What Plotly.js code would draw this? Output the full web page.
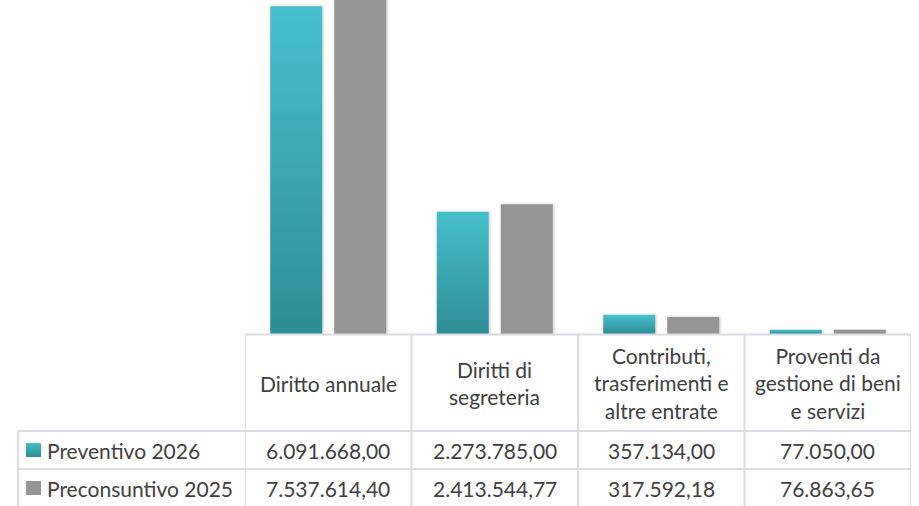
<!DOCTYPE html>
<html>
<head>
<meta charset="utf-8">
<script src="https://cdn.plot.ly/plotly-3.0.1.min.js"></script>
<style>
html,body{margin:0;padding:0;background:#fff;}
#chart{width:919px;height:506px;}
</style>
</head>
<body>
<svg width="0" height="0" style="position:absolute">
  <defs>
    <linearGradient id="tealGrad" x1="0" y1="0" x2="0" y2="1">
      <stop offset="0" stop-color="#46C0CC"/>
      <stop offset="1" stop-color="#2E8D96"/>
    </linearGradient>
    <filter id="barShadow" x="-20%" y="-20%" width="140%" height="140%">
      <feDropShadow dx="1" dy="0" stdDeviation="1.6" flood-color="#000" flood-opacity="0.22"/>
    </filter>
  </defs>
</svg>
<div id="chart"></div>
<script>
// ---- data ----
const categories = ['Diritto annuale', 'Diritti di segreteria', 'Contributi, trasferimenti e altre entrate', 'Proventi da gestione di beni e servizi'];
const categoryLabels = ['Diritto annuale', 'Diritti di<br>segreteria', 'Contributi,<br>trasferimenti e<br>altre entrate', 'Proventi da<br>gestione di beni<br>e servizi'];
const seriesNames = ['Preventivo 2026', 'Preconsuntivo 2025'];
const preventivo2026 = [6091668.00, 2273785.00, 357134.00, 77050.00];
const preconsuntivo2025 = [7537614.40, 2413544.77, 317592.18, 76863.65];

// ---- styling ----
const TEAL = '#3AA8B2';
const GRAY = '#959595';
const LINE = '#DCDCE4';
const TXT = '#404040';
const FONT = 'Lato, "Open Sans", sans-serif';
const FS = 21;

const W = 919, H = 506;
const L = 245, R = 8, T = 0, B = 172;
const PW = W - L - R, PH = H - T - B;
const px = p => (p - L) / PW;
const py = p => (T + PH - p) / PH;

function fmt(v) {
  const s = v.toFixed(2);
  const parts = s.split('.');
  return parts[0].replace(/\B(?=(\d{3})+(?!\d))/g, '.') + ',' + parts[1];
}

const traces = [
  {type: 'bar', name: seriesNames[0], x: categories, y: preventivo2026, marker: {color: TEAL}, hoverinfo: 'none'},
  {type: 'bar', name: seriesNames[1], x: categories, y: preconsuntivo2025, marker: {color: GRAY}, hoverinfo: 'none'}
];

const shapes = [];
const lineStyle = {color: LINE, width: 2};
// header top line (axis baseline)
shapes.push({type: 'line', xref: 'x', yref: 'paper', x0: -0.5, x1: categories.length - 0.5, y0: py(334.5), y1: py(334.5), line: lineStyle});
// row lines
[431, 469].forEach(yy => shapes.push({type: 'line', xref: 'paper', yref: 'paper', x0: px(18), x1: 1, y0: py(yy), y1: py(yy), line: lineStyle}));
// left border of legend column
shapes.push({type: 'line', xref: 'paper', yref: 'paper', x0: px(18), x1: px(18), y0: py(431), y1: py(506), line: lineStyle});
// column separators
for (let i = 0; i <= categories.length; i++) {
  shapes.push({type: 'line', xref: 'x', yref: 'paper', x0: i - 0.5, x1: i - 0.5, y0: py(334.5), y1: py(506), line: lineStyle});
}
// legend keys
const keyColors = [TEAL, GRAY];
const rowCenters = [450, 488];
rowCenters.forEach((yc, k) => {
  shapes.push({type: 'rect', xref: 'paper', yref: 'paper', x0: px(26), x1: px(41), y0: py(yc - 7), y1: py(yc + 7), fillcolor: keyColors[k], line: {width: 0}});
});

const annotations = [];
const baseFont = {family: FONT, size: FS, color: TXT};
categoryLabels.forEach((lab, i) => {
  annotations.push({xref: 'x', yref: 'paper', x: i, y: py(383), text: lab, showarrow: false, xanchor: 'center', yanchor: 'middle', align: 'center', font: baseFont});
});
const rows = [preventivo2026, preconsuntivo2025];
rows.forEach((vals, k) => {
  annotations.push({xref: 'paper', yref: 'paper', x: px(45), y: py(rowCenters[k]), text: seriesNames[k], showarrow: false, xanchor: 'left', yanchor: 'middle', font: baseFont});
  vals.forEach((v, i) => {
    annotations.push({xref: 'x', yref: 'paper', x: i, y: py(rowCenters[k]), text: fmt(v), showarrow: false, xanchor: 'center', yanchor: 'middle', font: baseFont});
  });
});

const layout = {
  width: W, height: H,
  margin: {l: L, r: R, t: T, b: B, pad: 0},
  paper_bgcolor: '#fff', plot_bgcolor: '#fff',
  showlegend: false,
  barmode: 'group', bargap: 0.231, bargroupgap: 0.1875,
  xaxis: {type: 'category', range: [-0.5, categories.length - 0.5], showticklabels: false, showgrid: false, zeroline: false, showline: false, ticks: ''},
  yaxis: {range: [0, 6.21e6], visible: false, showgrid: false, zeroline: false},
  shapes: shapes,
  annotations: annotations,
  font: baseFont
};

function decorate(gd) {
  gd.querySelectorAll('path').forEach(p => {
    const f = p.style.fill;
    if (!f) return;
    const isBar = p.closest('.bars') !== null;
    if (f === 'rgb(58, 168, 178)') {
      p.style.fill = 'url(#tealGrad)';
    }
    if (isBar) p.setAttribute('filter', 'url(#barShadow)');
  });
}

const gd = document.getElementById('chart');
Plotly.newPlot(gd, traces, layout, {displayModeBar: false, staticPlot: true}).then(() => decorate(gd));
</script>
</body>
</html>
